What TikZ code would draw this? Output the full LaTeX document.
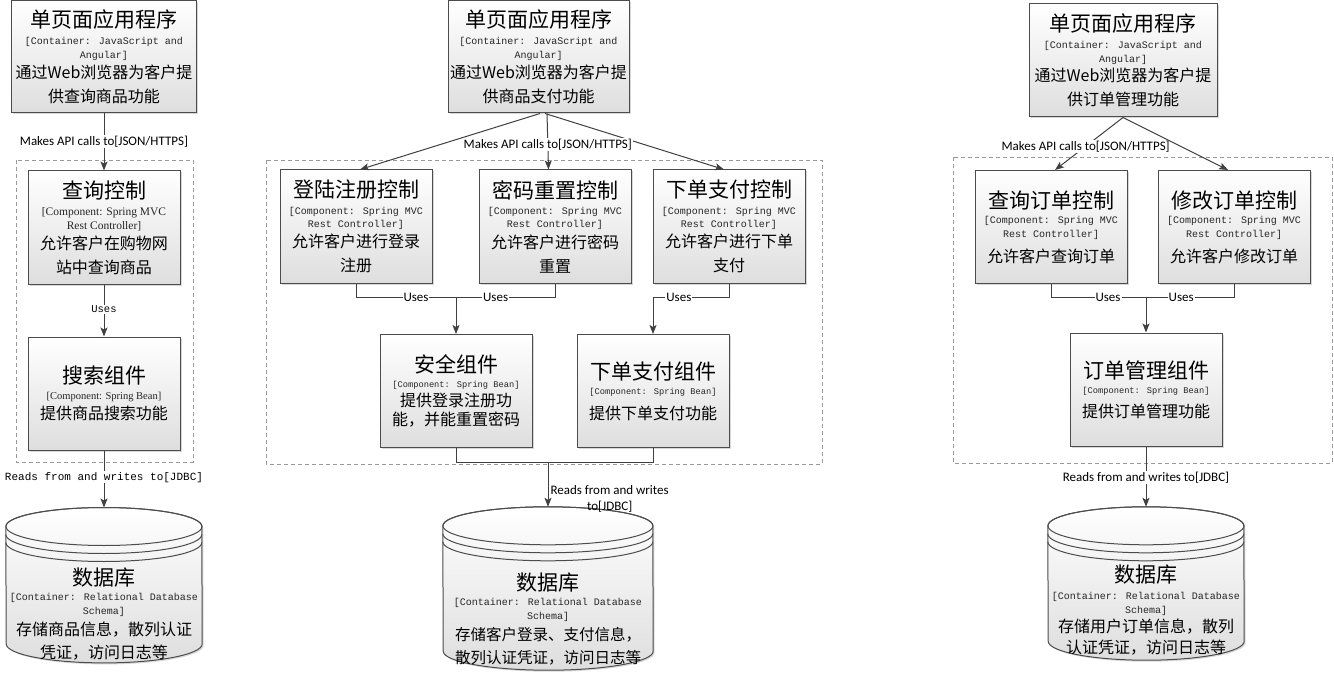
\documentclass[tikz,border=0pt]{standalone}
\usepackage{fontspec}
\setmainfont{Noto Sans CJK SC}
\newfontfamily\cjkf{Noto Sans CJK SC}
\newfontfamily\monof{Liberation Mono}
\newfontfamily\serf{Liberation Serif}
\newfontfamily\lblf{Carlito}
\usetikzlibrary{positioning,shadows,arrows.meta}

% text lines inside the boxes
\newcommand{\ttl}[1]{{\cjkf\fontsize{21}{21}\selectfont #1}}
\newcommand{\dsc}[2][16]{{\cjkf\fontsize{#1}{#1}\selectfont #2}}
\newcommand{\tch}[2][10]{{\monof\fontsize{#1}{#1}\selectfont\color{black!85}#2}}
\newcommand{\tchs}[2][11.5]{{\serf\fontsize{#1}{#1}\selectfont\color{black!85}#2}}

% cylinder drawn round a named node: #1 node, #2 half width
\newcommand{\cyl}[2]{%
  \path[dbfill] ([yshift=-19pt]#1.north west)
    arc[start angle=180,end angle=0,x radius=#2pt,y radius=19pt]
    -- ([yshift=19pt]#1.south east)
    arc[start angle=0,end angle=-180,x radius=#2pt,y radius=19pt] -- cycle;
  \draw[dbline] ([yshift=-19pt]#1.north) ellipse[x radius=#2pt,y radius=19pt];
  \draw[dbline] ([yshift=-27pt]#1.north west) arc[start angle=180,end angle=360,x radius=#2pt,y radius=19pt];
  \draw[dbline] ([yshift=-35pt]#1.north west) arc[start angle=180,end angle=360,x radius=#2pt,y radius=19pt];
}

\begin{document}
\begin{tikzpicture}
[x=1pt,y=-1pt,>={Stealth[length=9pt,width=7pt,inset=2pt]},
 elem/.style={draw=black!70,line width=1pt,top color=white,bottom color=black!13,
   drop shadow={shadow xshift=1.5pt,shadow yshift=-1.5pt,fill=black!30},
   minimum width=152pt,minimum height=113pt,inner sep=0pt,align=center,
   font={\fontsize{10}{14}\selectfont\lineskiplimit=-\maxdimen}},
 dbbox/.style={minimum width=196pt,minimum height=155pt,inner sep=0pt},
 dbtext/.style={inner sep=0pt,align=center,
   font={\fontsize{10}{14}\selectfont\lineskiplimit=-\maxdimen}},
 dbfill/.style={draw=black!70,line width=1pt,top color=white,bottom color=black!13,
   drop shadow={shadow xshift=1.5pt,shadow yshift=-1.5pt,fill=black!30}},
 dbline/.style={draw=black!70,line width=1pt},
 conn/.style={draw=black!75,line width=1pt},
 bound/.style={draw=black!40,line width=0.8pt,dash pattern=on 4pt off 3pt},
 lbl/.style={fill=white,inner sep=1pt,font=\lblf\fontsize{13}{15}\selectfont},
 lblm/.style={fill=white,inner sep=1pt,font=\monof\fontsize{10.5}{13}\selectfont}]
\useasboundingbox (0,0) rectangle (1334,674);

% boundaries
\draw[bound] (16,160) rectangle (193,462);
\draw[bound] (266,160) rectangle (822,464);
\draw[bound] (953,157) rectangle (1332,463);

% left: query
\node[elem,minimum width=185pt,minimum height=112pt] (spa1) at (104,57)
  {\ttl{单页面应用程序}\\[2.5pt]\tch{[Container: JavaScript and}\\\tch{Angular]}\\[6.5pt]\dsc{通过Web浏览器为客户提}\\[10pt]\dsc{供查询商品功能}};
\node[elem,below=57pt of spa1] (ctl1)
  {\ttl{查询控制}\\[3.5pt]\tchs{[Component: Spring MVC}\\\tchs{Rest Controller]}\\[5.5pt]\dsc{允许客户在购物网}\\[10pt]\dsc{站中查询商品}};
\node[elem,below=52pt of ctl1] (cmp1)
  {\ttl{搜索组件}\\[2pt]\tchs[10.5]{[Component: Spring Bean]}\\[6pt]\dsc{提供商品搜索功能}};
\node[dbbox,below=57pt of cmp1] (db1) {};
\cyl{db1}{98}
\node[dbtext] (db1t) at ([yshift=-28.75pt]db1.center)
  {\ttl{数据库}\\[1.5pt]\tch{[Container: Relational Database}\\\tch{Schema]}\\[6.5pt]\dsc{存储商品信息，散列认证}\\[9pt]\dsc{凭证，访问日志等}};

\draw[conn,->] (spa1) -- node[lbl,pos=.49]{Makes API calls to[JSON/HTTPS]} (ctl1);
\draw[conn,->] (ctl1) -- node[lblm,pos=.48]{Uses} (cmp1);
\draw[conn,->] (cmp1) -- node[lblm,pos=.47,font=\monof\fontsize{11}{13}\selectfont]{Reads from and writes to[JDBC]} (db1.north);

% middle: payment
\node[elem,minimum width=181pt,minimum height=112pt] (spa2) at (538.5,57)
  {\ttl{单页面应用程序}\\[2.5pt]\tch{[Container: JavaScript and}\\\tch{Angular]}\\[6.5pt]\dsc{通过Web浏览器为客户提}\\[10pt]\dsc{供商品支付功能}};
\node[elem] (ctl2a) at (356,226.5)
  {\ttl{登陆注册控制}\\[2.5pt]\tch{[Component: Spring MVC}\\[-1pt]\tch{Rest Controller]}\\[6.5pt]\dsc{允许客户进行登录}\\[10pt]\dsc{注册}};
\node[elem,right=46pt of ctl2a] (ctl2b)
  {\ttl{密码重置控制}\\[2.5pt]\tch{[Component: Spring MVC}\\[-1pt]\tch{Rest Controller]}\\[6.5pt]\dsc{允许客户进行密码}\\[10pt]\dsc{重置}};
\node[elem,right=21pt of ctl2b] (ctl2c)
  {\ttl{下单支付控制}\\[2.5pt]\tch{[Component: Spring MVC}\\[-1pt]\tch{Rest Controller]}\\[6.5pt]\dsc{允许客户进行下单}\\[10pt]\dsc{支付}};
\node[elem] (cmp2a) at (456,391)
  {\ttl{安全组件}\\[1pt]\tch[8.7]{[Component: Spring Bean]}\\[5pt]\dsc{提供登录注册功}\\[5pt]\dsc{能，并能重置密码}};
\node[elem,right=44pt of cmp2a] (cmp2b)
  {\ttl{下单支付组件}\\[1pt]\tch[8.7]{[Component: Spring Bean]}\\[11pt]\dsc{提供下单支付功能}};
\node[dbbox,minimum width=210pt,minimum height=163pt] (db2) at (548,588.5) {};
\cyl{db2}{105}
\node[dbtext] (db2t) at ([yshift=-30.75pt]db2.center)
  {\ttl{数据库}\\[0.5pt]\tch{[Container: Relational Database}\\\tch{Schema]}\\[7.5pt]\dsc[15.5]{存储客户登录、支付信息，}\\[9pt]\dsc[15.5]{散列认证凭证，访问日志等}};

\draw[conn,->] ([xshift=1.5pt]spa2.south) -- ([xshift=4pt]ctl2a.north);
\draw[conn,->] ([xshift=6.5pt]spa2.south) -- ([xshift=-5pt]ctl2c.north);
\draw[conn,->] ([xshift=8.5pt]spa2.south) -- node[lbl,pos=.55]{Makes API calls to[JSON/HTTPS]} ([xshift=-6.5pt]ctl2b.north);
\coordinate (j2a) at (cmp2a.north |- 0,297);
\coordinate (j2b) at (cmp2b.north |- 0,297);
\coordinate (j2c) at (db2.north |- 0,462);
\draw[conn,->] (ctl2a.south) |- node[lbl,pos=.8]{Uses} (j2a) -- (cmp2a.north);
\draw[conn] (ctl2b.south) |- node[lbl,pos=.8]{Uses} (j2a);
\draw[conn,->] (ctl2c.south) |- node[lbl,pos=.83]{Uses} (j2b) -- (cmp2b.north);
\draw[conn] (cmp2a.south) |- (j2c);
\draw[conn,->] (cmp2b.south) |- (j2c) -- node[anchor=west,pos=.82,inner sep=2pt,align=center,
  font=\lblf\fontsize{13}{16}\selectfont]{Reads from and writes\\to[JDBC]} (db2.north);

% right: orders
\node[elem,minimum width=188pt] (spa3) at (1123,60.5)
  {\ttl{单页面应用程序}\\[2.5pt]\tch{[Container: JavaScript and}\\\tch{Angular]}\\[5.5pt]\dsc{通过Web浏览器为客户提}\\[10pt]\dsc{供订单管理功能}};
\node[elem] (ctl3a) at (1051,227)
  {\ttl{查询订单控制}\\[1.5pt]\tch{[Component: Spring MVC}\\\tch{Rest Controller]}\\[10.5pt]\dsc{允许客户查询订单}};
\node[elem,right=30pt of ctl3a] (ctl3b)
  {\ttl{修改订单控制}\\[1.5pt]\tch{[Component: Spring MVC}\\\tch{Rest Controller]}\\[10.5pt]\dsc{允许客户修改订单}};
\node[elem] (cmp3) at (1146,389.5)
  {\ttl{订单管理组件}\\[1pt]\tch[8.7]{[Component: Spring Bean]}\\[10pt]\dsc{提供订单管理功能}};
\node[dbbox,minimum height=153pt] (db3) at (1146,583.5) {};
\cyl{db3}{98}
\node[dbtext] (db3t) at ([yshift=-26.75pt]db3.center)
  {\ttl{数据库}\\[2.5pt]\tch{[Container: Relational Database}\\\tch{Schema]}\\[5.5pt]\dsc{存储用户订单信息，散列}\\[7pt]\dsc{认证凭证，访问日志等}};

\draw[conn,->] (spa3.south) -- node[lbl,pos=.55]{Makes API calls to[JSON/HTTPS]} ([xshift=4pt]ctl3a.north);
\draw[conn,->] (spa3.south) -- ([xshift=-6pt]ctl3b.north);
\coordinate (j3) at (cmp3.north |- 0,297);
\draw[conn,->] (ctl3a.south) |- node[lbl,pos=.8]{Uses} (j3) -- (cmp3.north);
\draw[conn] (ctl3b.south) |- node[lbl,pos=.8]{Uses} (j3);
\draw[conn,->] (cmp3) -- node[lbl,pos=.52]{Reads from and writes to[JDBC]} (db3.north);
\end{tikzpicture}
\end{document}
